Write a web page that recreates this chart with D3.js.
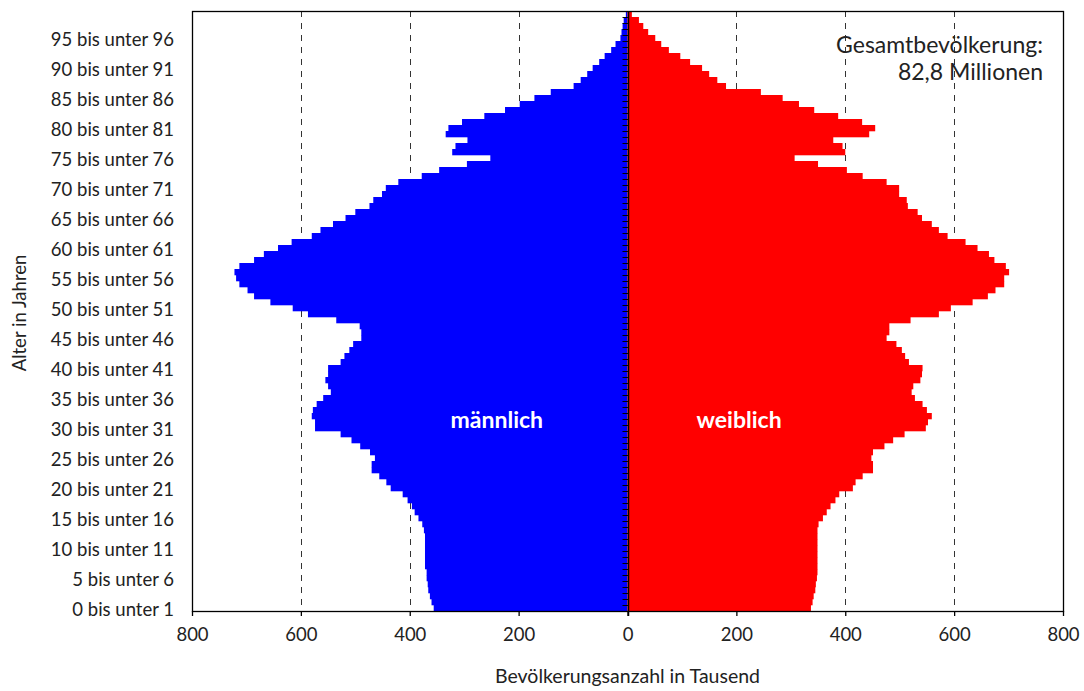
<!DOCTYPE html>
<html>
<head>
<meta charset="utf-8">
<script src="https://cdn.jsdelivr.net/npm/d3@7"></script>
<style>
  body { margin: 0; background: #fff; }
  svg { display: block; font-family: "Lato", "DejaVu Sans", sans-serif; }
</style>
</head>
<body>
<svg id="chart" width="1084" height="691"></svg>
<script>
// ---- data (in Tausend), index = age 0..99 ----
const ages = d3.range(0, 100);
const male = [356,360,363,366,367,369,369,372,372,372,
              372,372,372,374,377,384,391,396,404,413,
              435,443,456,470,470,464,473,491,507,527,
              574,574,580,578,571,559,545,550,555,550,
              550,527,520,511,504,489,489,492,535,587,
              615,656,686,698,713,719,722,713,686,668,
              642,617,580,564,541,518,500,474,467,451,
              444,421,378,346,295,252,322,316,294,334,
              329,304,263,225,198,171,141,99,86,74,
              64,52,42,30,22,13,11,9,7,3];
const female = [337,340,342,345,346,348,349,349,349,349,
                349,349,349,349,351,359,366,373,382,389,
                414,419,432,451,451,448,451,472,488,509,
                548,552,559,550,542,528,522,525,538,541,
                542,517,510,504,494,476,481,481,520,572,
                594,634,662,676,692,692,701,695,674,664,
                643,621,588,572,559,541,533,515,513,499,
                499,476,432,403,350,307,400,395,378,444,
                455,431,387,343,315,285,245,181,165,150,
                137,115,97,76,62,51,38,29,21,8];
const labelAges = d3.range(0, 100, 5);
const ageLabels = labelAges.map(a => a + " bis unter " + (a + 1));
const xTicks = [-800, -600, -400, -200, 0, 200, 400, 600, 800];
const gridValues = [-600, -400, -200, 200, 400, 600];
const totalText = ["Gesamtbevölkerung:", "82,8 Millionen"];
const seriesNames = ["männlich", "weiblich"];

// ---- layout ----
const svg = d3.select("#chart");
const pL = 192, pR = 1063, pT = 11, pB = 611;
const x = d3.scaleLinear().domain([-800, 800]).range([pL, pR]);
const y = d3.scaleBand().domain(ages).range([pB, pT]).padding(0);

// gridlines
svg.append("g").selectAll("line").data(gridValues).join("line")
  .attr("x1", d => Math.round(x(d)) + 0.5).attr("x2", d => Math.round(x(d)) + 0.5)
  .attr("y1", pT).attr("y2", pB)
  .attr("stroke", "#333").attr("stroke-width", 1)
  .attr("stroke-dasharray", "6,6");

// bars
svg.append("g").selectAll("rect").data(ages).join("rect")
  .attr("x", a => x(-male[a]))
  .attr("width", a => x(0) - x(-male[a]))
  .attr("y", a => y(a))
  .attr("height", y.bandwidth() + 0.3)
  .attr("fill", "#0000ff");
svg.append("g").selectAll("rect").data(ages).join("rect")
  .attr("x", x(0))
  .attr("width", a => x(female[a]) - x(0))
  .attr("y", a => y(a))
  .attr("height", y.bandwidth() + 0.3)
  .attr("fill", "#ff0000");

// plot frame
svg.append("rect")
  .attr("x", pL + 0.5).attr("y", pT + 0.5)
  .attr("width", pR - pL).attr("height", pB - pT)
  .attr("fill", "none").attr("stroke", "#000").attr("stroke-width", 1.3);

// center axis with small ticks at each band boundary
const cx = Math.round(x(0)) + 0.5;
svg.append("line").attr("x1", cx).attr("x2", cx).attr("y1", pT).attr("y2", pB + 5)
  .attr("stroke", "#000").attr("stroke-width", 1.5);
svg.append("g").selectAll("line").data(ages.slice(1)).join("line")
  .attr("x1", cx - 6).attr("x2", cx)
  .attr("y1", a => Math.round(y(a) + y.bandwidth()) + 0.5)
  .attr("y2", a => Math.round(y(a) + y.bandwidth()) + 0.5)
  .attr("stroke", "#000").attr("stroke-width", 1);

// x axis
const xAxis = d3.axisBottom(x).tickValues(xTicks).tickFormat(d => Math.abs(d)).tickSize(5).tickPadding(12);
const gx = svg.append("g").attr("transform", `translate(0,${pB})`).call(xAxis);
gx.select(".domain").remove();
gx.selectAll(".tick line").attr("stroke", "#000").attr("stroke-width", 1.3);
gx.selectAll(".tick text").attr("font-size", 18.5).attr("fill", "#222")
  .attr("font-family", "Lato, sans-serif");

// y labels
const yAxis = d3.axisLeft(y).tickValues(labelAges).tickFormat(a => ageLabels[labelAges.indexOf(a)])
  .tickSize(0).tickPadding(18);
const gy = svg.append("g").attr("transform", `translate(${pL},0)`).call(yAxis);
gy.select(".domain").remove();
gy.selectAll(".tick text").attr("font-size", 18.5).attr("fill", "#222")
  .attr("dy", "0.42em")
  .attr("font-family", "Lato, sans-serif");

// axis titles
svg.append("text").attr("x", x(0)).attr("y", 683).attr("text-anchor", "middle")
  .attr("font-size", 19.5).attr("fill", "#222").text("Bevölkerungsanzahl in Tausend");
svg.append("text").attr("transform", "translate(26,313) rotate(-90)").attr("text-anchor", "middle")
  .attr("font-size", 18.5).attr("fill", "#222").text("Alter in Jahren");

// total annotation
svg.append("g").selectAll("text").data(totalText).join("text")
  .attr("x", 1043).attr("y", (d, i) => 53 + i * 27)
  .attr("text-anchor", "end").attr("font-size", 23).attr("fill", "#222").text(d => d);

// series labels
svg.append("text").attr("x", x(-240)).attr("y", 428).attr("text-anchor", "middle")
  .attr("font-size", 23).attr("font-weight", "bold").attr("fill", "#fff").text(seriesNames[0]);
svg.append("text").attr("x", x(205)).attr("y", 428).attr("text-anchor", "middle")
  .attr("font-size", 23).attr("font-weight", "bold").attr("fill", "#fff").text(seriesNames[1]);
</script>
</body>
</html>
